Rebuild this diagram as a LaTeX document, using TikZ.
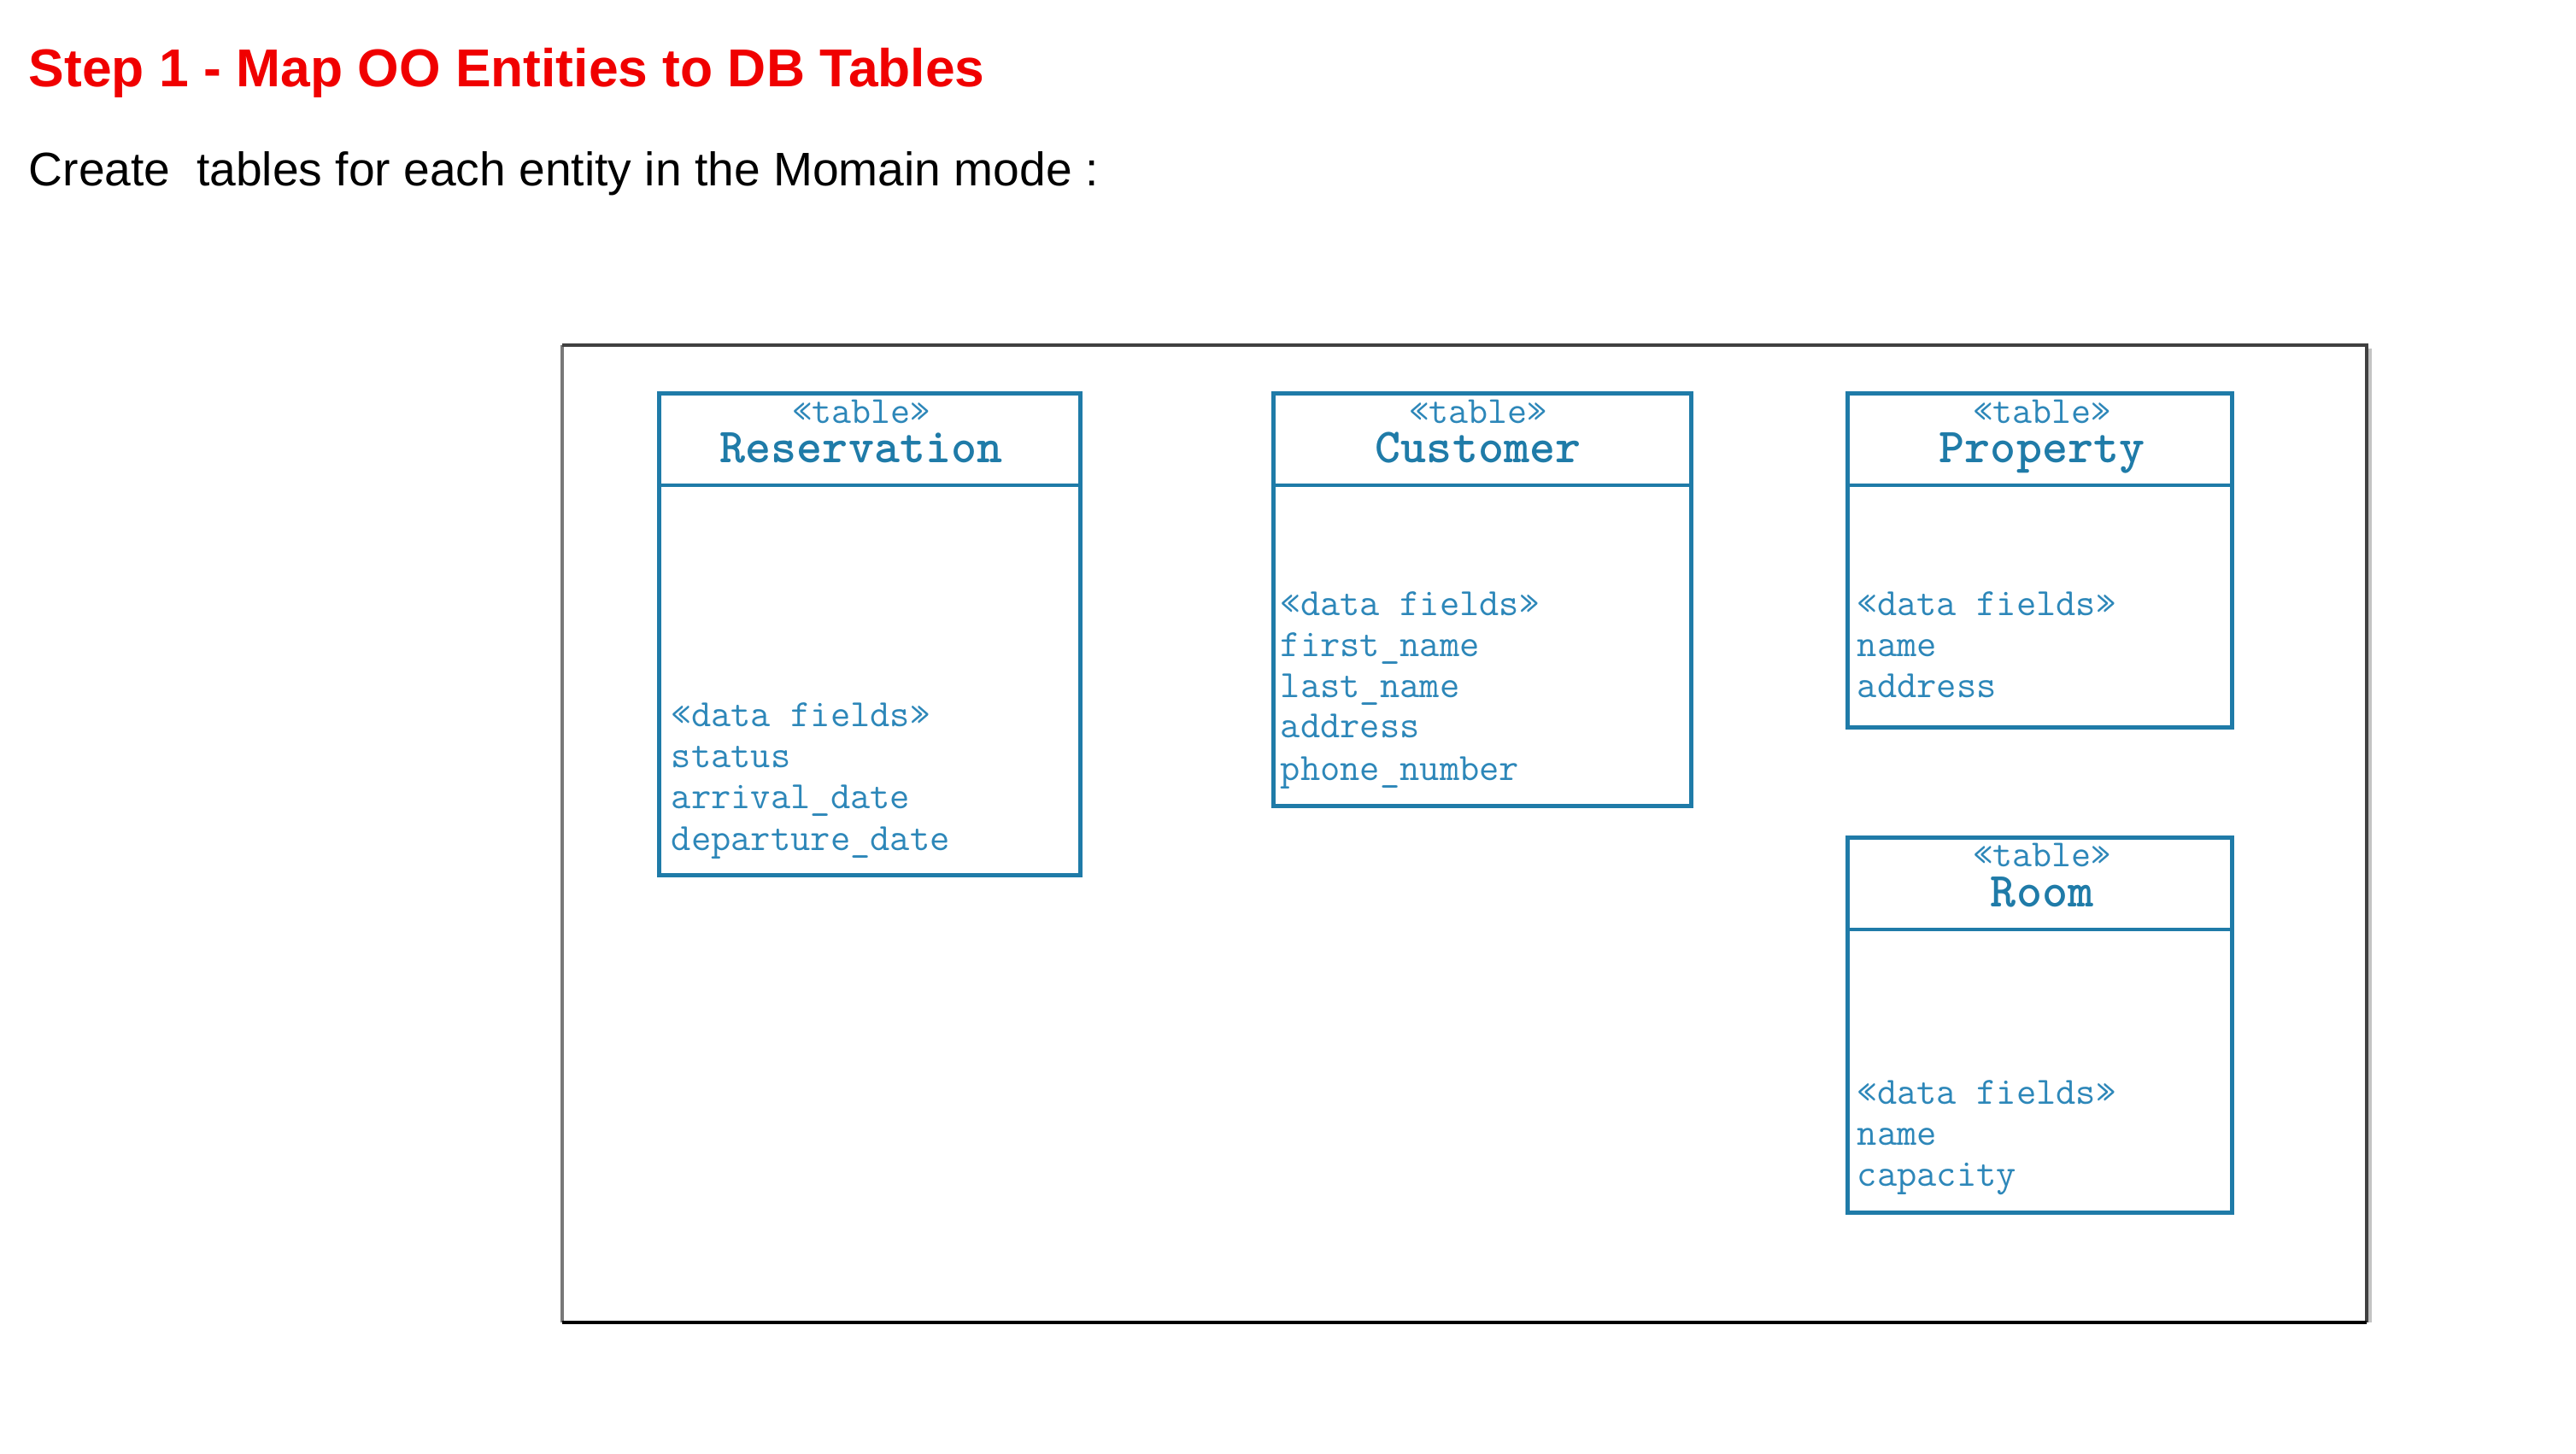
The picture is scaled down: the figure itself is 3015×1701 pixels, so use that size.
\documentclass[tikz,border=0pt]{standalone}
\usepackage{fontspec}
\setmainfont{Liberation Sans}
\usepackage{graphicx}
\newdimen\px \px=0.25pt
\definecolor{tblblue}{RGB}{31,123,168}
\definecolor{txtblue}{RGB}{45,135,185}
\definecolor{titlered}{RGB}{240,0,0}
\definecolor{framedark}{RGB}{64,64,64}
\definecolor{frameleft}{RGB}{120,120,120}
\definecolor{frameshadow}{RGB}{195,195,195}
\begin{document}
\begin{tikzpicture}[x=0.25pt,y=-0.25pt,
  tbl/.style={draw=tblblue, line width=4.5\px, anchor=north west, inner sep=0},
  divline/.style={draw=tblblue, line width=4\px},
  stereo/.style={anchor=base, inner sep=0, text height=6pt, text depth=0pt, text=txtblue, font=\ttfamily\fontsize{11.2}{12}\selectfont},
  tname/.style={anchor=base, inner sep=0, text height=8pt, text depth=0pt, text=tblblue, font=\ttfamily\bfseries\fontsize{14.3}{15}\selectfont},
  field/.style={anchor=base west, inner sep=0, text height=7pt, text depth=1.5pt, text=txtblue, font=\ttfamily\fontsize{11.3}{12}\selectfont},
  frameline/.style={line width=4\px},
]
\useasboundingbox (0,0) rectangle (3015,1701);
\fill[white] (0,0) rectangle (3015,1701);

% headings
\node[anchor=base west, inner sep=0, text=titlered, font=\bfseries\fontsize{15.6}{16}\selectfont] (title) at (33,102) {Step 1 - Map OO Entities to DB Tables};
\node[anchor=base west, inner sep=0, font=\fontsize{13.8}{14}\selectfont] (sub) at (33,218) {Create\ \ tables for each entity in the Momain mode :};

% outer frame
\node[minimum width=2110\px, minimum height=1142\px, anchor=north west, inner sep=0] (frame) at (658,404) {};
\draw[frameline, frameshadow] ([xshift=1pt, yshift=-1pt]frame.north east) -- ([xshift=1pt]frame.south east);
\draw[frameline, frameleft] (frame.north west) -- (frame.south west);
\draw[frameline, framedark] (frame.north west) -- (frame.north east) -- (frame.south east);
\draw[frameline, black] (frame.south west) -- (frame.south east);

% Reservation
\node[tbl, minimum width=493\px, minimum height=564\px] (res) at (769,458) {};
\coordinate (resdiv) at (0,568);
\draw[divline] (res.west |- resdiv) -- (res.east |- resdiv);
\node[stereo] (resst) at (1008,495) {«table»};
\node[tname] (resnm) at (1008,541) {Reservation};
\node[field] (resf0) at (785,850) {«data fields»};
\node[field] (resf1) at (785,898) {status};
\node[field] (resf2) at (785,946) {arrival\_date};
\node[field] (resf3) at (785,995) {departure\_date};

% Customer
\node[tbl, minimum width=489\px, minimum height=483\px] (cus) at (1488,458) {};
\coordinate (cusdiv) at (0,568);
\draw[divline] (cus.west |- cusdiv) -- (cus.east |- cusdiv);
\node[stereo] (cusst) at (1730,495) {«table»};
\node[tname] (cusnm) at (1730,541) {Customer};
\node[field] (cusf0) at (1498,720) {«data fields»};
\node[field] (cusf1) at (1498,768) {first\_name};
\node[field] (cusf2) at (1498,816) {last\_name};
\node[field] (cusf3) at (1498,863) {address};
\node[field] (cusf4) at (1498,913) {phone\_number};

% Property
\node[tbl, minimum width=450\px, minimum height=391\px] (pro) at (2160,458) {};
\coordinate (prodiv) at (0,568);
\draw[divline] (pro.west |- prodiv) -- (pro.east |- prodiv);
\node[stereo] (prost) at (2390,495) {«table»};
\node[tname] (pronm) at (2390,541) {Property};
\node[field] (prof0) at (2173,720) {«data fields»};
\node[field] (prof1) at (2173,768) {name};
\node[field] (prof2) at (2173,816) {address};

% Room
\node[tbl, minimum width=450\px, minimum height=439\px] (room) at (2160,978) {};
\coordinate (roomdiv) at (0,1088);
\draw[divline] (room.west |- roomdiv) -- (room.east |- roomdiv);
\node[stereo] (roomst) at (2390,1014) {«table»};
\node[tname] (roomnm) at (2390,1061) {Room};
\node[field] (roomf0) at (2173,1292) {«data fields»};
\node[field] (roomf1) at (2173,1340) {name};
\node[field] (roomf2) at (2173,1388) {capacity};
\end{tikzpicture}
\end{document}
